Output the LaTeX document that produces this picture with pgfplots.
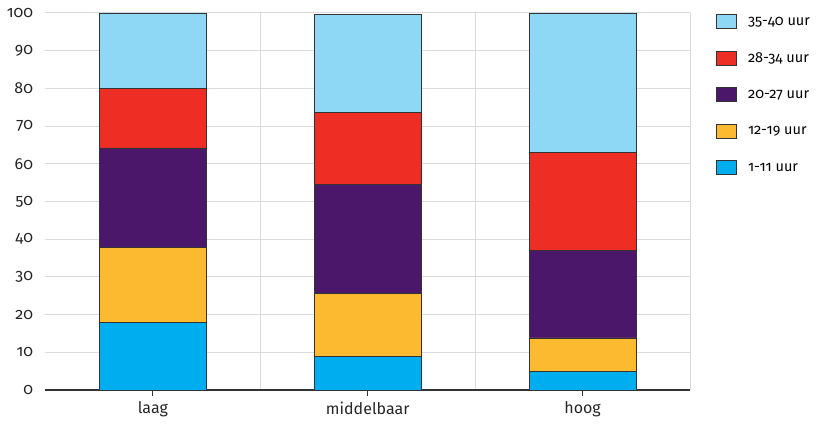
\documentclass[border=0pt]{standalone}
\usepackage{fontspec}
\setmainfont{Fira Sans}[Numbers=OldStyle]
\usepackage{pgfplots}
\pgfplotsset{compat=1.18}
\definecolor{cA}{HTML}{00AEEF}
\definecolor{cB}{HTML}{FBBA30}
\definecolor{cC}{HTML}{4A176B}
\definecolor{cD}{HTML}{EE2E24}
\definecolor{cE}{HTML}{8ED8F6}
\definecolor{gridc}{HTML}{DADADA}
\definecolor{edge}{HTML}{333333}
\begin{document}
\begin{tikzpicture}[x=1pt,y=1pt]
\useasboundingbox (-45.5,-35) rectangle (779.5,390);
\begin{axis}[
  at={(0,0)}, anchor=south west,
  scale only axis, width=644.5pt, height=377pt,
  ybar stacked, bar width=107pt,
  xmin=-0.5, xmax=2.5, ymin=0, ymax=100,
  xtick={0,1,2}, xticklabels={laag,middelbaar,hoog},
  minor xtick={0.5,1.5,2.5},
  ytick={0,10,...,100},
  xminorgrids, ymajorgrids,
  grid style={gridc, line width=1pt},
  minor grid style={gridc, line width=1pt},
  axis lines*=left,
  x axis line style={edge, line width=1.2pt, -},
  y axis line style={draw=none},
  ytick style={draw=none},
  xtick style={edge, line width=1pt},
  tick align=outside, major tick length=6pt, minor tick length=0pt,
  /pgf/number format/assume math mode=true,
  ticklabel style={font=\fontsize{16}{18}\selectfont, text=black!85},
  yticklabel style={xshift=-3pt},
  xticklabel style={yshift=-2pt},
  reverse legend,
  legend cell align=left,
  legend style={at={(1,1)}, anchor=north west, xshift=23pt, yshift=1pt, draw=none,
    font=\fontsize{14.5}{17}\selectfont, row sep=21.5pt,
    /tikz/every odd column/.append style={column sep=9pt}},
  mybar/.style={fill=#1, draw=edge, line width=0.9pt,
    legend image code/.code={\draw[fill=#1, draw=edge, line width=0.9pt] (0pt,-7pt) rectangle (20pt,7pt);}},
]
\addplot[mybar=cA] coordinates {(0,17.8) (1,9.0) (2,4.8)};
\addplot[mybar=cB] coordinates {(0,20.1) (1,16.7) (2,9.0)};
\addplot[mybar=cC] coordinates {(0,26.3) (1,28.9) (2,23.1)};
\addplot[mybar=cD] coordinates {(0,15.9) (1,19.1) (2,26.2)};
\addplot[mybar=cE] coordinates {(0,19.9) (1,26.0) (2,36.9)};
\legend{1-11 uur,12-19 uur,20-27 uur,28-34 uur,35-40 uur}
\end{axis}
\end{tikzpicture}
\end{document}
